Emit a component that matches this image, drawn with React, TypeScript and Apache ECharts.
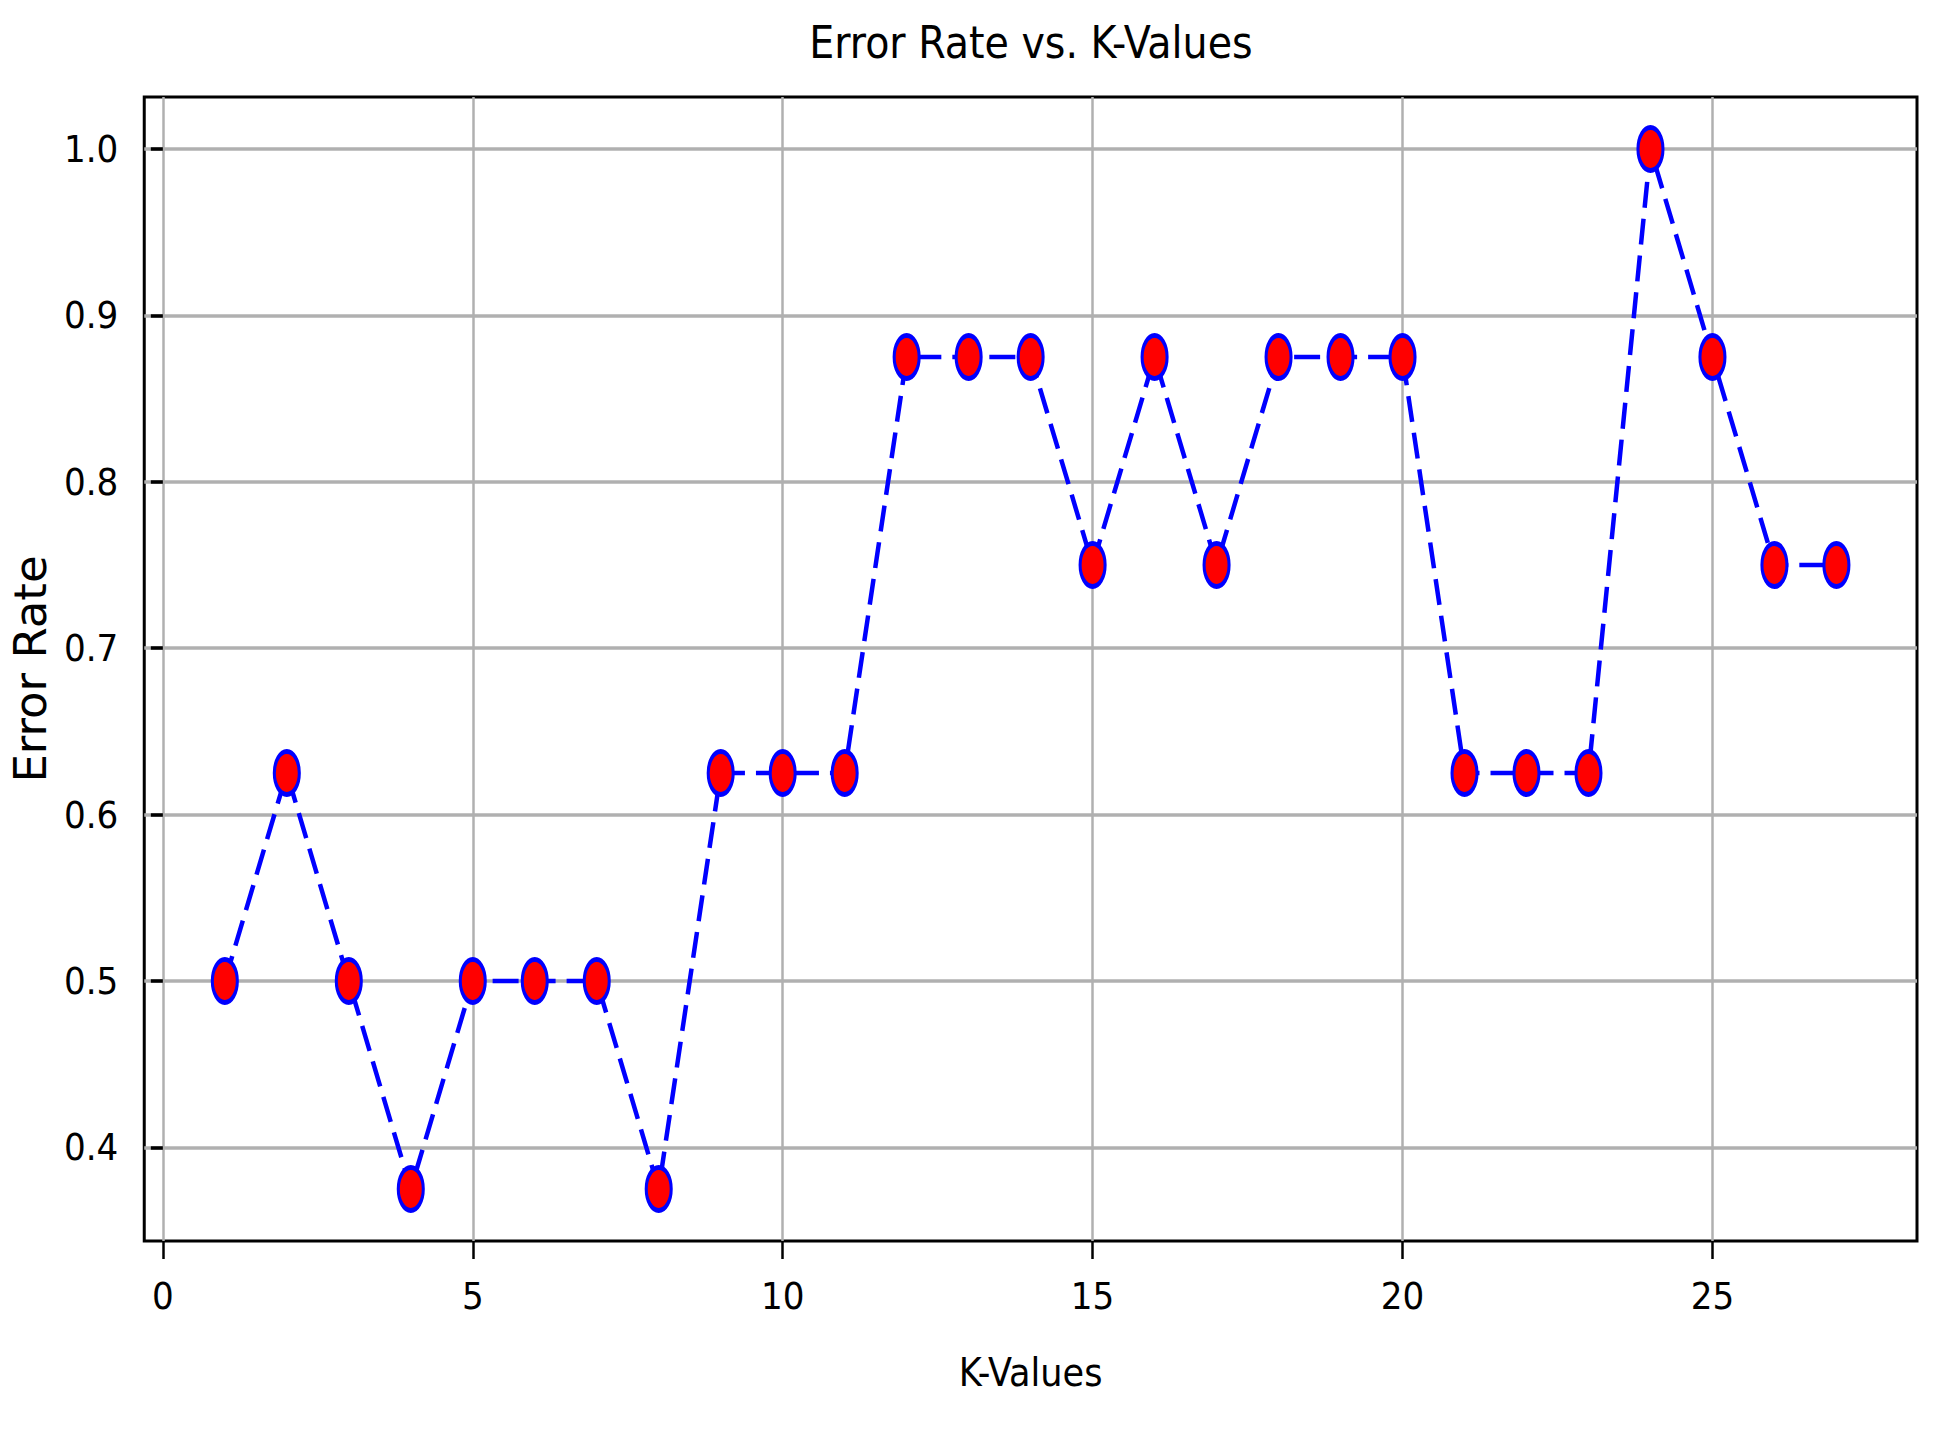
import React, { useEffect, useRef } from "react";
import * as echarts from "echarts";

// ---- data ----
const kValues = [1, 2, 3, 4, 5, 6, 7, 8, 9, 10, 11, 12, 13, 14, 15, 16, 17, 18, 19, 20, 21, 22, 23, 24, 25, 26, 27];
const errorRates = [
  0.5, 0.625, 0.5, 0.375, 0.5, 0.5, 0.5, 0.375, 0.625, 0.625, 0.625, 0.875, 0.875, 0.875,
  0.75, 0.875, 0.75, 0.875, 0.875, 0.875, 0.625, 0.625, 0.625, 1.0, 0.875, 0.75, 0.75,
];
const xTickValues = [0, 5, 10, 15, 20, 25];
const yTickValues = [0.4, 0.5, 0.6, 0.7, 0.8, 0.9, 1.0];
const titleText = "Error Rate vs. K-Values";
const xAxisTitle = "K-Values";
const yAxisTitle = "Error Rate";

const NARROW = "'DejaVu Sans Condensed', 'Liberation Sans Narrow', 'DejaVu Sans', sans-serif";
const WIDE = "'DejaVu Sans', 'Liberation Sans', sans-serif";
const ELLIPSE = "path://M0,10 A5,10 0 1,1 10,10 A5,10 0 1,1 0,10 Z";

export default function App() {
  const ref = useRef<HTMLDivElement>(null);

  useEffect(() => {
    if (!ref.current) return;
    const chart = echarts.init(ref.current, undefined, { renderer: "svg" });
    const option = {
      animation: false,
      backgroundColor: "#ffffff",
      title: {
        text: titleText,
        left: 1026,
        textAlign: "center",
        top: 15,
        textStyle: { fontFamily: NARROW, fontSize: 44, fontWeight: "normal", color: "#000" },
      },
      grid: {
        left: 140,
        top: 97,
        width: 1777,
        height: 1144,
        show: true,
        borderColor: "#000",
        borderWidth: 3,
        backgroundColor: "transparent",
        containLabel: false,
      },
      xAxis: {
        type: "value",
        min: -0.3,
        max: 28.3,
        name: xAxisTitle,
        nameLocation: "middle",
        nameGap: 112,
        nameTextStyle: { fontFamily: NARROW, fontSize: 39, color: "#000" },
        axisLine: { show: false },
        axisTick: { show: true, customValues: xTickValues, length: 18, lineStyle: { color: "#000", width: 2.5 } },
        axisLabel: {
          customValues: xTickValues,
          margin: 36,
          fontFamily: NARROW,
          fontSize: 38,
          color: "#000",
        },
        splitLine: { show: true, lineStyle: { color: "#b0b0b0", width: 2.5 } },
      },
      yAxis: {
        type: "value",
        min: 0.34375,
        max: 1.03125,
        name: yAxisTitle,
        nameLocation: "middle",
        nameGap: 78,
        nameTextStyle: { fontFamily: WIDE, fontSize: 45, color: "#000" },
        axisLine: { show: false },
        axisTick: { show: true, customValues: yTickValues, length: 12, lineStyle: { color: "#000", width: 3.5 } },
        axisLabel: {
          customValues: yTickValues,
          margin: 26,
          fontFamily: NARROW,
          fontSize: 38,
          color: "#000",
          formatter: (v: number) => v.toFixed(1),
        },
        splitLine: { show: true, lineStyle: { color: "#b0b0b0", width: 3.5 } },
      },
      series: [
        {
          type: "line",
          data: kValues.map((k, i) => [k, errorRates[i]]),
          lineStyle: { color: "#0000ff", width: 4.5, type: [26, 11] },
          symbol: ELLIPSE,
          symbolSize: [25, 43],
          showAllSymbol: true,
          itemStyle: { color: "#ff0000", borderColor: "#0000ff", borderWidth: 4 },
          clip: false,
          z: 5,
        },
      ],
    };
    chart.setOption(option as any);
    return () => chart.dispose();
  }, []);

  return (
    <div
      ref={ref}
      style={{ position: "fixed", left: 0, top: 0, width: 1948, height: 1430, background: "#fff" }}
    />
  );
}
